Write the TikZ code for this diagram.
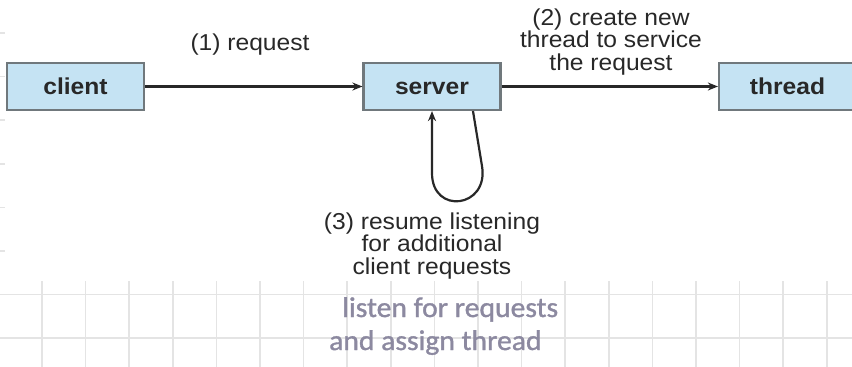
\documentclass[tikz,border=0pt]{standalone}
\usepackage{fontspec}
\setmainfont{Liberation Sans}[FakeStretch=1.07]
\newfontfamily\handfont{Carlito}[FakeStretch=1.04, FakeBold=1.2]
\usetikzlibrary{arrows.meta,calc}

\definecolor{boxfill}{RGB}{197,227,243}
\definecolor{boxedge}{RGB}{112,120,124}
\definecolor{ink}{RGB}{40,40,40}
\definecolor{gridline}{RGB}{228,228,228}
\definecolor{pencil}{RGB}{140,137,160}

\tikzset{
  procbox/.style={draw=boxedge, line width=2.2pt, fill=boxfill,
    minimum width=137pt, minimum height=47pt, inner sep=0pt,
    text height=17pt, text depth=2pt,
    font=\fontsize{23}{23}\selectfont\bfseries, text=ink},
  conn/.style={draw=ink, line width=2.2pt,
    -{Stealth[length=10pt,width=8pt]}},
  note/.style={align=center, font=\fontsize{23}{22.5}\selectfont,
    text=ink, inner sep=0pt},
  scribble/.style={align=left, font=\handfont\fontsize{28.5}{33}\selectfont,
    text=pencil, inner sep=0pt},
  gridrule/.style={draw=gridline, line width=1.6pt}
}

\begin{document}
\begin{tikzpicture}[x=1pt, y=-1pt]
\useasboundingbox (0,0) rectangle (852,367);
\begin{scope}
\clip (0,0) rectangle (852,367);

% squared paper underneath
\foreach \k in {0,...,7} {
  \draw[gridrule] (0,{33+43.6*\k}) -- (852,{33+43.6*\k});
}
\foreach \k in {0,...,18} {
  \draw[gridrule] ({42+43.6*\k},0) -- ({42+43.6*\k},367);
}
% pasted diagram sheet
\fill[white] (5,0) rectangle (852,281);

% processes
\node[procbox] (client) at (75.5,86.5) {client};
\node[procbox] (server) at (432,86.5) {server};
\node[procbox] (thread) at (787.5,86.5) {thread};

% messages
\draw[conn] (client) -- (server);
\draw[conn] (server) -- (thread);
\draw[conn] ([xshift=41pt]server.south) -- ($(server.south)+(50,55)$)
  .. controls ($(server.south)+(57,97)$) and ($(server.south)+(0,104)$)
  .. ($(server.south)+(0,62)$) -- (server.south);

% labels (anchored on the baseline of their last line)
\node[note, anchor=base] (lreq) at (250,50) {(1) request};
\node[note, anchor=base] (lnew) at (611,70)
  {(2) create new\\thread to service\\the request};
\node[note, anchor=base] (lres) at (432,274)
  {(3) resume listening\\for additional\\client requests};

% pencil note
\node[scribble, anchor=base west] (hand) at (329,350)
  {\hspace*{13pt}listen for requests\\and assign thread};
\end{scope}
\end{tikzpicture}
\end{document}
